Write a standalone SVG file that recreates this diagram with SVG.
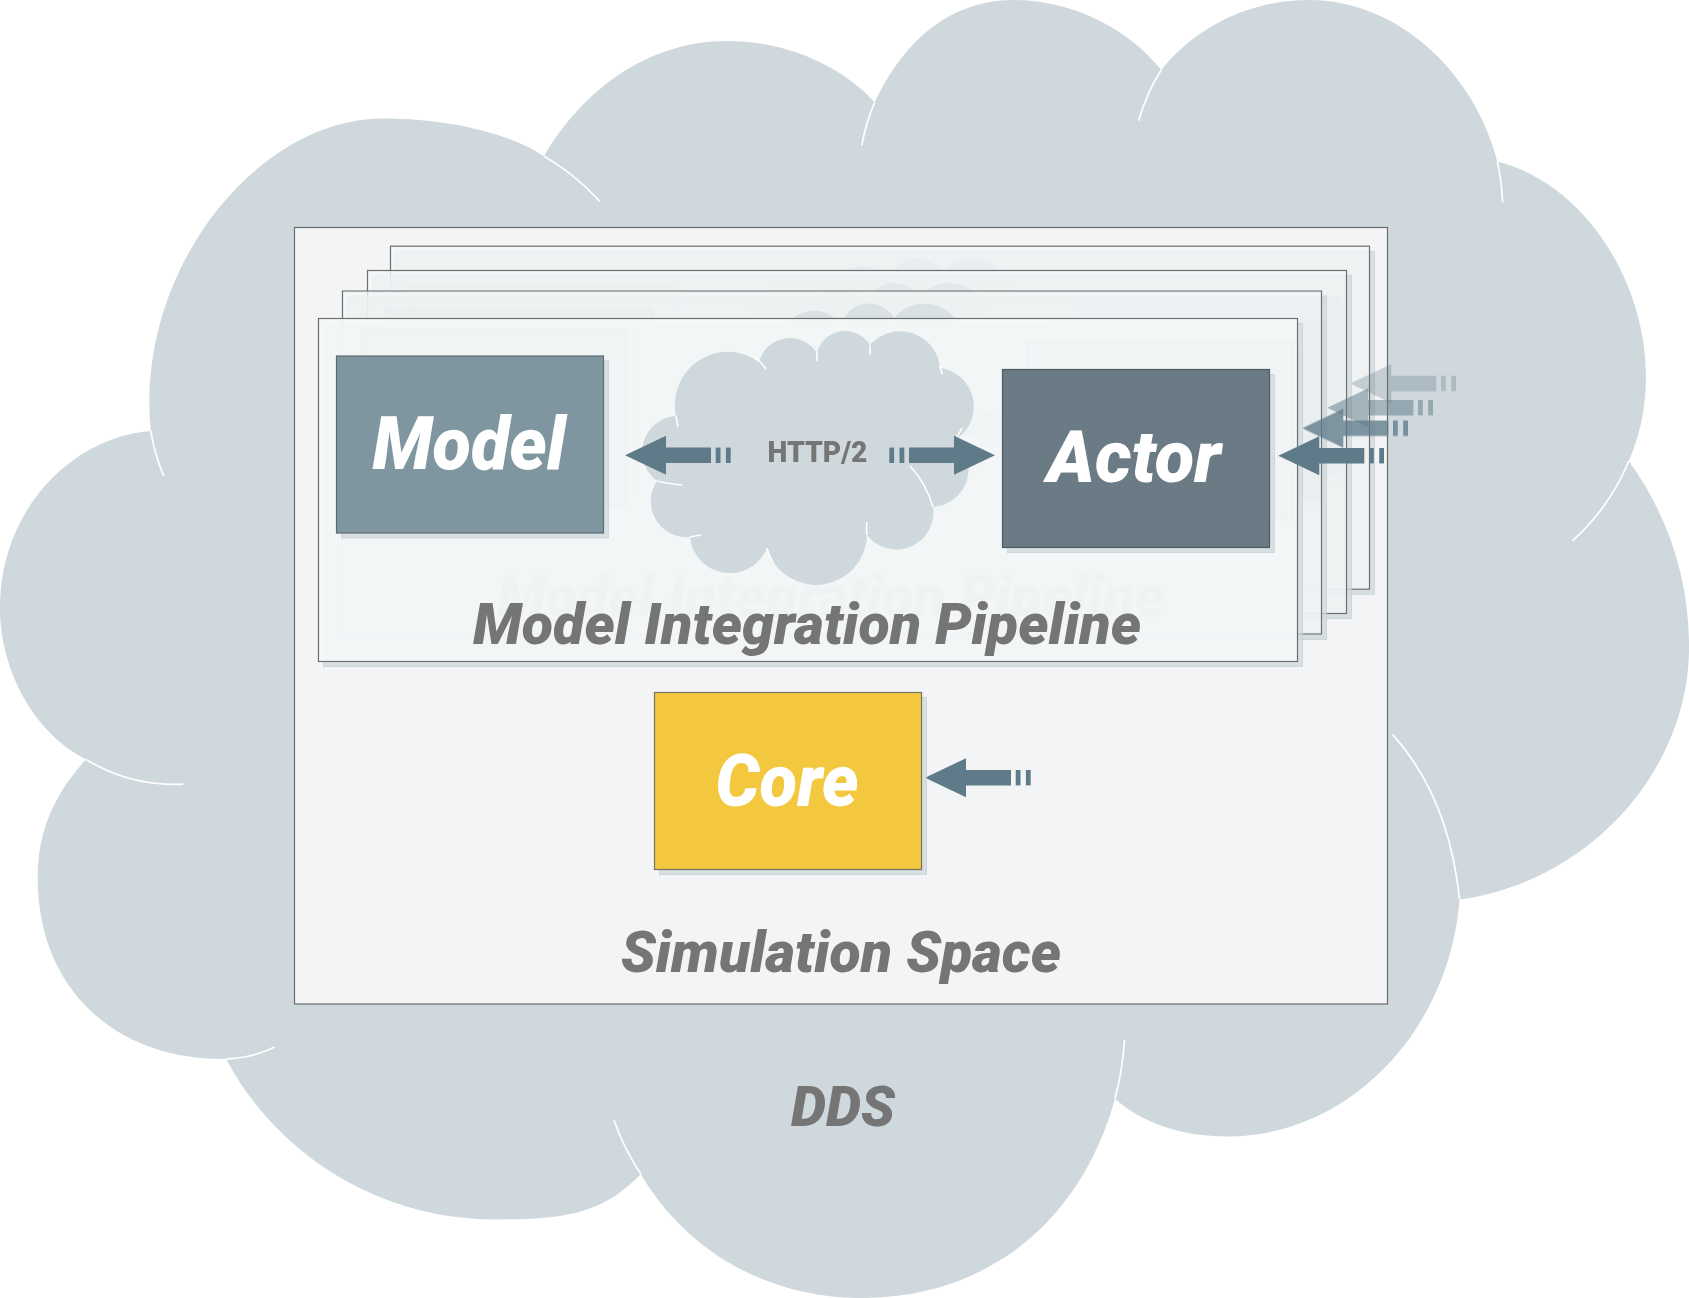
<svg xmlns="http://www.w3.org/2000/svg" xmlns:xlink="http://www.w3.org/1999/xlink" width="1689" height="1298" viewBox="0 0 1689 1298">
<style>
.cloud{fill:#cfd8dc}
.crease{fill:none;stroke:#ffffff;stroke-width:1.6}
.frame{fill:#f5f7f8;stroke:#6e6e6e;stroke-width:1.2}
.shadow{fill:#cfd8dc;stroke:#c3cdd2;stroke-width:1;opacity:0.75}
.arrow{fill:#5f7b89}
.lbl{font-family:Roboto,"Liberation Sans",sans-serif;font-weight:900;font-style:italic;text-anchor:middle}
.gray{fill:#757575}
.white{fill:#ffffff}
</style>
<defs>
<g id="arrowL">
<path d="M0,0 L41,-19.5 L41,-7.7 L86,-7.7 L86,7.7 L41,7.7 L41,19.5 Z"/>
<rect x="90.7" y="-7.7" width="4.8" height="15.4"/>
<rect x="100.9" y="-7.7" width="4.8" height="15.4"/>
</g>
</defs>

<!-- DDS cloud -->
<g id="node-dds">
<g transform="scale(1.0772)">
<path class="cloud" d="M140,400 C125,250 240,110 355,110 C420,110 475,125 505,145 C540,85 600,38 675,38 C735,38 785,65 812,95 C840,35 885,0 940,0 C1000,0 1050,30 1078,65 C1110,25 1160,0 1215,0 C1300,0 1370,70 1390,150 C1470,170 1528,260 1528,350 C1528,380 1522,405 1512,428 C1550,480 1568,540 1568,600 C1568,720 1470,820 1355,835 C1345,960 1250,1055 1140,1055 C1095,1055 1060,1042 1035,1020 C1005,1130 920,1205 800,1205 C700,1205 630,1150 595,1090 C560,1125 530,1132 460,1132 C340,1132 250,1060 210,983 C110,985 35,920 35,815 C35,770 52,735 80,705 C30,680 0,620 0,565 C0,470 70,405 140,400 Z"/>
<path class="crease" d="M505,145 Q532,160 557,187 M812,95 Q804,113 800,135 M1078,65 Q1065,85 1057,112 M1390,150 Q1394,168 1395,188 M1512,428 Q1495,470 1460,502 M1355,835 Q1345,740 1293,682 M1035,1020 Q1042,995 1044,965 M595,1090 Q580,1068 570,1040 M210,983 Q235,982 255,972 M80,705 Q120,730 170,728 M140,400 Q143,420 152,442"/>
</g>
<text class="lbl gray" x="843" y="1126" font-size="55" textLength="104" lengthAdjust="spacingAndGlyphs">DDS</text>
</g>

<!-- Simulation Space -->
<g id="node-sim">
<rect x="294.5" y="227.5" width="1093" height="776.5" fill="#f2f4f5" stroke="#6b6b6b" stroke-width="1.2"/>
<text class="lbl gray" x="841" y="972" font-size="57" textLength="440" lengthAdjust="spacingAndGlyphs">Simulation Space</text>
</g>

<!-- back copies of the Model Integration Pipeline -->
<g id="mip-copy-1" transform="translate(72,-72.3)">
<rect class="shadow" x="323.5" y="323.5" width="979" height="343"/>
<rect class="frame" x="318.5" y="318.5" width="979" height="343" fill-opacity="0.76"/>
<g opacity="0.31">
<use xlink:href="#node-http" opacity="0.6"/>
<use xlink:href="#conn-mip"/>
<use xlink:href="#node-model"/>
<use xlink:href="#node-actor"/>
<use xlink:href="#mip-label"/>
</g>
</g>
<g id="mip-copy-2" transform="translate(49,-48)">
<rect class="shadow" x="323.5" y="323.5" width="979" height="343"/>
<rect class="frame" x="318.5" y="318.5" width="979" height="343" fill-opacity="0.76"/>
<g opacity="0.52">
<use xlink:href="#node-http" opacity="0.65"/>
<use xlink:href="#conn-mip"/>
<use xlink:href="#node-model"/>
<use xlink:href="#node-actor"/>
<use xlink:href="#mip-label"/>
</g>
</g>
<g id="mip-copy-3" transform="translate(24,-27.5)">
<rect class="shadow" x="323.5" y="323.5" width="979" height="343"/>
<rect class="frame" x="318.5" y="318.5" width="979" height="343" fill-opacity="0.76"/>
<g opacity="0.78">
<use xlink:href="#node-http" opacity="0.8"/>
<use xlink:href="#conn-mip"/>
<use xlink:href="#node-model"/>
<use xlink:href="#node-actor"/>
<use xlink:href="#mip-label"/>
</g>
</g>

<!-- front Model Integration Pipeline -->
<g id="node-mip">
<rect class="shadow" x="323.5" y="323.5" width="979" height="343"/>
<rect class="frame" x="318.5" y="318.5" width="979" height="343" fill-opacity="0.91"/>
<text id="mip-label" class="lbl gray" x="807" y="643.5" font-size="58" textLength="668" lengthAdjust="spacingAndGlyphs">Model Integration Pipeline</text>
</g>

<g id="node-http">
<path class="cloud" d="M676,416 A53,53 0 0 1 759,362 A32,32 0 0 1 817,353 A29,29 0 0 1 870,345 A40,40 0 0 1 940,368 A39,39 0 0 1 955,440 A38,38 0 0 1 933,507 A37,37 0 0 1 867,535 A51,51 0 0 1 767,548 A40,40 0 0 1 690,537 A36,36 0 0 1 657,481 A36,36 0 0 1 676,416 Z"/>
<path class="crease" d="M755,357 Q761,362 766,369 M817,352 L817,361 M870,345 L870,355 M940,366 L942,374 M955,440 Q959,434 962,428 M910,466 Q926,483 933,507 M867,535 Q866,529 867,522 M767,548 Q769,555 772,561 M690,537 Q695,536 701,535 M657,481 Q669,484 682,485 M676,416 Q677,421 678,427"/>
<text x="817.5" y="462" font-family="Roboto,'Liberation Sans',sans-serif" font-weight="900" font-size="29" text-anchor="middle" fill="#757575" textLength="100" lengthAdjust="spacingAndGlyphs">HTTP/2</text>
</g>

<g id="connectors">
<g id="conn-mip" class="arrow">
<use xlink:href="#arrowL" transform="translate(625,455.3)"/>
<use xlink:href="#arrowL" transform="translate(995,455.3) scale(-1,1)"/>
<use xlink:href="#arrowL" transform="translate(1278.3,455.7)"/>
</g>
<g id="conn-core" class="arrow">
<use xlink:href="#arrowL" transform="translate(925,777.7)"/>
</g>
</g>

<g id="node-model">
<rect class="shadow" x="341.5" y="361" width="267" height="177"/>
<rect x="336.5" y="356" width="267" height="177" fill="#7f96a1" stroke="#5c6a71" stroke-width="1.2"/>
<text class="lbl white" x="469" y="469" font-size="73" textLength="193" lengthAdjust="spacingAndGlyphs">Model</text>
</g>

<g id="node-actor">
<rect class="shadow" x="1007.5" y="374.5" width="267" height="178"/>
<rect x="1002.5" y="369.5" width="267" height="178" fill="#6a7b85" stroke="#4f5b62" stroke-width="1.2"/>
<text class="lbl white" x="1134" y="482" font-size="72" textLength="174" lengthAdjust="spacingAndGlyphs">Actor</text>
</g>

<g id="node-core">
<rect class="shadow" x="659.5" y="697.5" width="267" height="177"/>
<rect x="654.5" y="692.5" width="267" height="177" fill="#f3c83f" stroke="#77715f" stroke-width="1.2"/>
<text class="lbl white" x="787" y="806" font-size="72" textLength="143" lengthAdjust="spacingAndGlyphs">Core</text>
</g>
</svg>
